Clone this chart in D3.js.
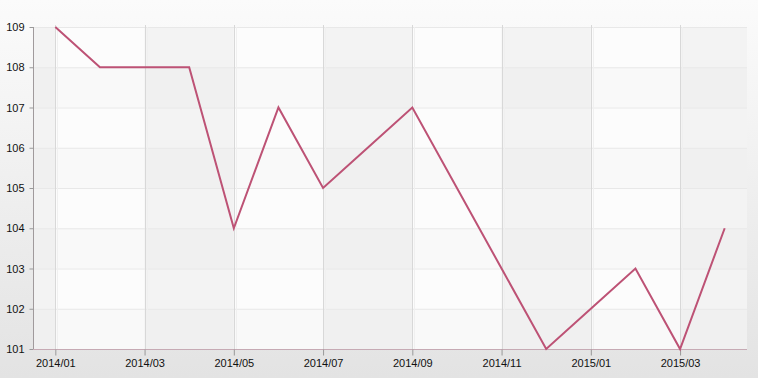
<!DOCTYPE html>
<html><head><meta charset="utf-8">
<script src="https://cdn.jsdelivr.net/npm/d3@7"></script>
<style>html,body{margin:0;padding:0;overflow:hidden}svg{display:block}</style>
</head><body>
<svg id="c" width="758" height="378"></svg>
<script>
const months = ["2014/01","2014/02","2014/03","2014/04","2014/05","2014/06","2014/07","2014/08","2014/09","2014/10","2014/11","2014/12","2015/01","2015/02","2015/03","2015/04"];
const values = [109,108,108,108,104,107,105,106,107,105,103,101,102,103,101,104];
const xTickLabels = ["2014/01","2014/03","2014/05","2014/07","2014/09","2014/11","2015/01","2015/03"];
const yTicks = [101,102,103,104,105,106,107,108,109];

const W = 758, H = 378;
const m = {l:33, r:11, t:27, b:29};
const svg = d3.select("#c");
const defs = svg.append("defs");
const g1 = defs.append("linearGradient").attr("id","bg").attr("x1",0).attr("y1",0).attr("x2",0).attr("y2",1);
g1.append("stop").attr("offset","0%").attr("stop-color","#fbfbfb");
g1.append("stop").attr("offset","100%").attr("stop-color","#e3e3e3");
svg.append("rect").attr("width",W).attr("height",H).attr("fill","url(#bg)");

const x = d3.scalePoint().domain(months).range([m.l, W-m.r]).padding(0.5);
const y = d3.scaleLinear().domain([101,109]).range([H-m.b, m.t]);
const x0 = m.l, x1 = W-m.r, y0 = m.t, y1 = H-m.b;

svg.append("rect").attr("x",x0).attr("y",y0).attr("width",x1-x0).attr("height",y1-y0).attr("fill","#fcfcfc");
// vertical bands
const bandEdges = [x0, ...xTickLabels.map(d=>x(d)), x1];
for (let i=0;i<bandEdges.length-1;i++){
  if (i%2===0) svg.append("rect").attr("x",bandEdges[i]).attr("y",y0).attr("width",bandEdges[i+1]-bandEdges[i]).attr("height",y1-y0).attr("fill","#f3f3f3");
}
// horizontal bands
for (let i=0;i<yTicks.length-1;i++){
  if (i%2===0) svg.append("rect").attr("x",x0).attr("y",y(yTicks[i+1])).attr("width",x1-x0).attr("height",y(yTicks[i])-y(yTicks[i+1])).attr("fill","#000").attr("opacity",0.01);
}
// horizontal grid
svg.append("g").selectAll("line").data(yTicks).join("line")
  .attr("x1",x0).attr("x2",x1).attr("y1",d=>y(d)+0.5).attr("y2",d=>y(d)+0.5)
  .attr("stroke","#e8e8e8");
// vertical grid
const vg = svg.append("g");
vg.selectAll("line.a").data(xTickLabels).join("line").attr("class","a")
  .attr("x1",d=>Math.round(x(d))+0.5).attr("x2",d=>Math.round(x(d))+0.5).attr("y1",y0-2).attr("y2",y1)
  .attr("stroke","#d8d8d8");
vg.selectAll("line.b").data(xTickLabels).join("line").attr("class","b")
  .attr("x1",d=>Math.round(x(d))+2.5).attr("x2",d=>Math.round(x(d))+2.5).attr("y1",y0).attr("y2",y1)
  .attr("stroke","#f0f0f0");

// axes
const ya = svg.append("g").attr("transform",`translate(${x0+0.5},0)`)
  .call(d3.axisLeft(y).tickValues(yTicks).tickSize(4).tickPadding(5).tickFormat(d3.format("d")));
ya.select(".domain").attr("stroke","#a09a9c").attr("d",`M0,${y0}V${y1}`);
ya.selectAll(".tick line").attr("stroke","#999");
ya.selectAll("text").attr("fill","#111").style("font-family","'Liberation Sans',Arial,sans-serif").style("font-size","11px");

const xa = svg.append("g").attr("transform",`translate(0,${y1+0.5})`)
  .call(d3.axisBottom(x).tickValues(xTickLabels).tickSize(6).tickPadding(4));
xa.select(".domain").attr("stroke","#c6aab4").attr("d",`M${x0},0H${x1}`);
xa.selectAll(".tick line").attr("stroke","#999");
xa.selectAll("text").attr("fill","#111").style("font-family","'Liberation Sans',Arial,sans-serif").style("font-size","11px");

// line
svg.append("path").datum(values.map((v,i)=>[months[i],v]))
  .attr("fill","none").attr("stroke","#bd5275").attr("stroke-width",2).attr("stroke-linejoin","miter")
  .attr("d", d3.line().x(d=>x(d[0])).y(d=>y(d[1])));
</script>
</body></html>
